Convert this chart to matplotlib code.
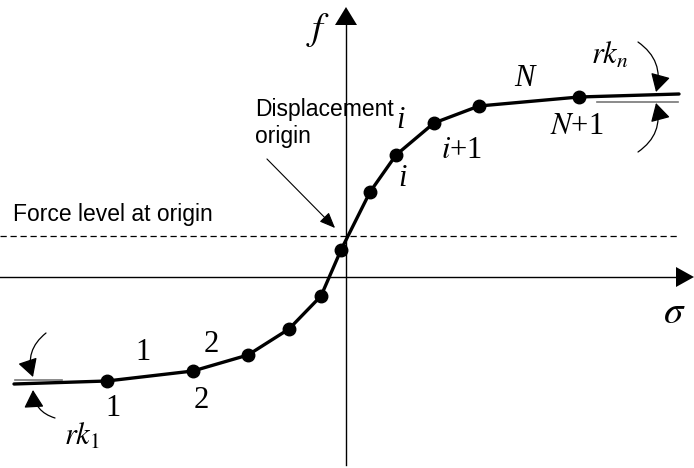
import numpy as np
import matplotlib
matplotlib.use("Agg")
import matplotlib.pyplot as plt
from matplotlib.patches import FancyArrowPatch

plt.rcParams['mathtext.fontset'] = 'stix'

# curve nodes (sigma, f); first and last entries are line ends without markers
sigma = [-3.32, -2.39, -1.53, -0.98, -0.57, -0.25, -0.05, 0.24, 0.50, 0.88, 1.33, 2.33, 3.33]
force = [-1.07, -1.04, -0.94, -0.78, -0.52, -0.19, 0.27, 0.85, 1.22, 1.54, 1.71, 1.80, 1.83]
f_origin = 0.41

serif = ['Liberation Serif', 'DejaVu Serif']
sans = ['Liberation Sans', 'DejaVu Sans']

fig = plt.figure(figsize=(6.94, 4.68), dpi=100)
ax = fig.add_axes([0, 0, 1, 1])
ax.set_xlim(-3.46, 3.48)
ax.set_ylim(-1.91, 2.77)
ax.axis('off')

# axes with arrow heads
ax.plot([-3.46, 3.30], [0, 0], color='k', lw=1.0)
ax.plot([0, 0], [-1.88, 2.55], color='k', lw=1.0)
ax.fill([3.30, 3.30, 3.48], [0.10, -0.10, 0.0], color='k', lw=0)
ax.fill([-0.11, 0.11, 0.0], [2.52, 2.52, 2.70], color='k', lw=0)

# force level at origin
ax.plot([-3.46, 3.34], [f_origin, f_origin], color='k', lw=0.9, ls=(0, (5, 3)))

# tangent lines at ends
ax.plot([-3.31, -2.84], [-1.03, -1.03], color='#777777', lw=1.2)
ax.plot([2.51, 3.32], [1.75, 1.75], color='#777777', lw=1.2)

# curve
ax.plot(sigma, force, color='k', lw=2.4, solid_capstyle='round')
ax.plot(sigma[1:-1], force[1:-1], 'o', color='k', ms=9)

# displacement origin pointer
ax.annotate('', xy=(-0.09, 0.47), xytext=(-0.81, 1.20),
            arrowprops=dict(arrowstyle='-|>,head_length=0.6,head_width=0.25', color='k',
                            lw=0.8, mutation_scale=16))

# rk arrows
def rk_arrow(x0, y0, x1, y1, rad):
    ax.add_patch(FancyArrowPatch((x0, y0), (x1, y1), connectionstyle='arc3,rad=%s' % rad,
                                 arrowstyle='-|>,head_length=0.5,head_width=0.28',
                                 mutation_scale=22, lw=0.9, color='k',
                                 shrinkA=0, shrinkB=0))

rk_arrow(-3.00, -0.56, -3.13, -1.00, 0.35)
rk_arrow(-2.91, -1.41, -3.13, -1.13, -0.35)
rk_arrow(2.92, 2.35, 3.10, 1.85, -0.35)
rk_arrow(2.92, 1.25, 3.10, 1.74, 0.35)

# texts
ax.text(-0.28, 2.47, '$f$', fontsize=28, ha='center', va='center')
ax.text(3.28, -0.35, r'$\sigma$', fontsize=28, ha='center', va='center')
ax.text(-0.91, 1.54, 'Displacement\norigin', family=sans, fontsize=16.5, ha='left', va='center',
        linespacing=1.2)
ax.text(-3.33, 0.62, 'Force level at origin', family=sans, fontsize=16.5, ha='left', va='center')

lab = dict(family=serif, fontsize=22, ha='center', va='center')
ax.text(-2.03, -0.75, '1', **lab)
ax.text(-1.35, -0.67, '2', **lab)
ax.text(-2.33, -1.31, '1', **lab)
ax.text(-1.45, -1.23, '2', **lab)
ax.text(0.55, 1.57, 'i', style='italic', **lab)
ax.text(0.57, 0.99, 'i', style='italic', **lab)
ax.text(1.16, 1.27, '$i$+1', **lab)
ax.text(1.78, 1.99, 'N', style='italic', **lab)
ax.text(2.31, 1.50, '$N$+1', **lab)
ax.text(2.64, 2.22, '$rk_n$', fontsize=22, ha='center', va='center')
ax.text(-2.64, -1.59, '$rk_1$', fontsize=22, ha='center', va='center')

fig.savefig('out.png', dpi=100)
